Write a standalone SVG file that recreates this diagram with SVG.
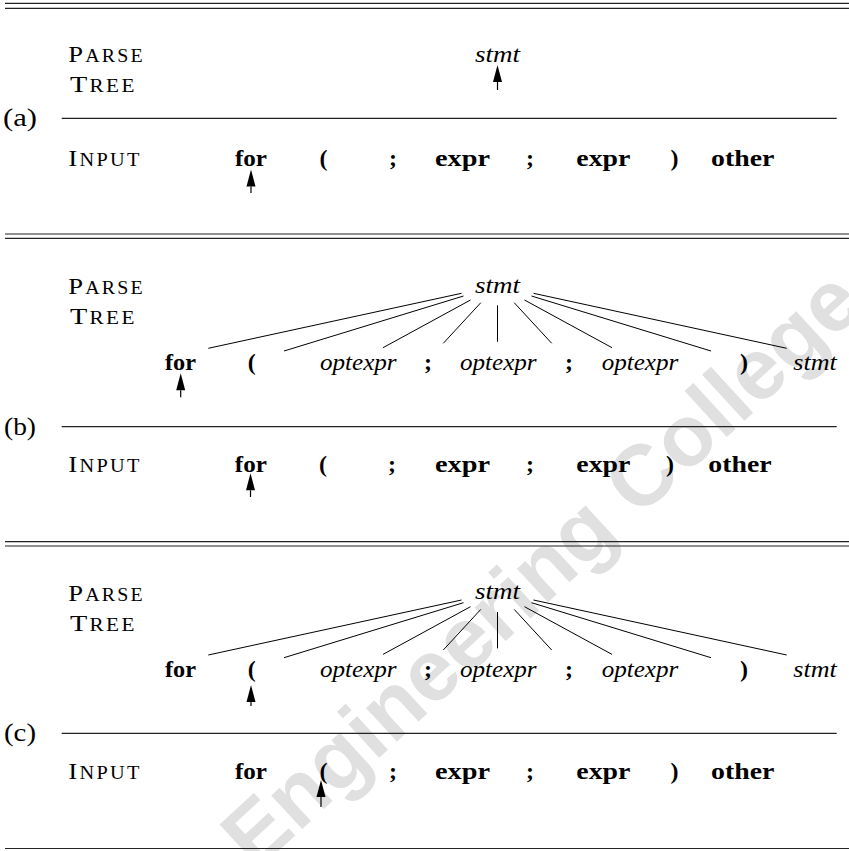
<svg xmlns="http://www.w3.org/2000/svg" width="849" height="851" viewBox="0 0 849 851">
<style>
.t{font-family:"Liberation Serif","Times New Roman",serif;font-size:24px;fill:#000}
.b{font-weight:bold}
.i{font-style:italic}
.m{text-anchor:middle}
.cap{letter-spacing:2px}
.sm{font-size:18px}
.lab{font-size:26px}
.rule{stroke:#222;stroke-width:1.2;fill:none}
.edge{stroke:#000;stroke-width:1;fill:none}
.arr{stroke:#000;stroke-width:1.2;fill:none;marker-end:url(#ah)}
.wm{font-family:"Liberation Sans",Arial,sans-serif;font-weight:bold;font-size:86px;fill:#e0e0e0;text-anchor:middle}
</style>
<defs>
<marker id="ah" markerUnits="userSpaceOnUse" markerWidth="17" markerHeight="9" refX="0" refY="4.5" orient="auto" viewBox="0 0 17 9" overflow="visible">
<path d="M0,0 L17,4.5 L0,9 Z" fill="#000"/>
</marker>
</defs>
<rect width="849" height="851" fill="#fff"/>
<text class="wm" x="561" y="590" transform="rotate(-42.7 561 590)">Engineering College</text>

<g id="rules">
<line class="rule" x1="5" y1="3.3" x2="849" y2="3.3"/>
<line class="rule" x1="5" y1="8.3" x2="849" y2="8.3"/>
<line class="rule" x1="61.7" y1="118.3" x2="836.7" y2="118.3"/>
<line class="rule" x1="5" y1="234" x2="849" y2="234"/>
<line class="rule" x1="5" y1="238.3" x2="849" y2="238.3"/>
<line class="rule" x1="61.7" y1="426.7" x2="836.7" y2="426.7"/>
<line class="rule" x1="5" y1="541.7" x2="849" y2="541.7"/>
<line class="rule" x1="5" y1="546" x2="849" y2="546"/>
<line class="rule" x1="61.7" y1="733.3" x2="836.7" y2="733.3"/>
<line class="rule" x1="5" y1="848.5" x2="849" y2="848.5"/>
</g>

<g id="labels">
<text class="t lab" x="3" y="126" textLength="34" lengthAdjust="spacingAndGlyphs">(a)</text>
<text class="t lab" x="4" y="434.5" textLength="32" lengthAdjust="spacingAndGlyphs">(b)</text>
<text class="t lab" x="4" y="740.5" textLength="32" lengthAdjust="spacingAndGlyphs">(c)</text>
<text class="t cap" x="68.3" y="62.3" textLength="76.7" lengthAdjust="spacingAndGlyphs">P<tspan class="sm">ARSE</tspan></text>
<text class="t cap" x="70" y="92.3" textLength="66.7" lengthAdjust="spacingAndGlyphs">T<tspan class="sm">REE</tspan></text>
<text class="t cap" x="68.3" y="166" textLength="73.3" lengthAdjust="spacingAndGlyphs">I<tspan class="sm">NPUT</tspan></text>
<text class="t cap" x="68.3" y="294" textLength="76.7" lengthAdjust="spacingAndGlyphs">P<tspan class="sm">ARSE</tspan></text>
<text class="t cap" x="70" y="324" textLength="66.7" lengthAdjust="spacingAndGlyphs">T<tspan class="sm">REE</tspan></text>
<text class="t cap" x="68.3" y="472" textLength="73.3" lengthAdjust="spacingAndGlyphs">I<tspan class="sm">NPUT</tspan></text>
<text class="t cap" x="68.3" y="600.7" textLength="76.7" lengthAdjust="spacingAndGlyphs">P<tspan class="sm">ARSE</tspan></text>
<text class="t cap" x="70" y="630.7" textLength="66.7" lengthAdjust="spacingAndGlyphs">T<tspan class="sm">REE</tspan></text>
<text class="t cap" x="68.3" y="779" textLength="73.3" lengthAdjust="spacingAndGlyphs">I<tspan class="sm">NPUT</tspan></text>
</g>

<!-- section (a) -->
<g id="a-tree">
<g id="a-stmt"><text class="t i m" x="497.5" y="61.7" textLength="45" lengthAdjust="spacingAndGlyphs">stmt</text></g>
</g>
<g id="a-input">
<g id="a-in-for"><text class="t b m" x="251" y="166" textLength="32" lengthAdjust="spacingAndGlyphs">for</text></g>
<g id="a-in-lp"><text class="t b m" x="323.5" y="166">(</text></g>
<g id="a-in-semi1"><text class="t b m" x="393" y="166">;</text></g>
<g id="a-in-expr1"><text class="t b m" x="462.5" y="166" textLength="55" lengthAdjust="spacingAndGlyphs">expr</text></g>
<g id="a-in-semi2"><text class="t b m" x="530" y="166">;</text></g>
<g id="a-in-expr2"><text class="t b m" x="603.3" y="166" textLength="54" lengthAdjust="spacingAndGlyphs">expr</text></g>
<g id="a-in-rp"><text class="t b m" x="674.5" y="166">)</text></g>
<g id="a-in-other"><text class="t b m" x="742.7" y="166" textLength="63.3" lengthAdjust="spacingAndGlyphs">other</text></g>
</g>

<!-- section (b) -->
<g id="b-tree">
<g id="b-stmt"><text class="t i m" x="497.5" y="292.5" textLength="45" lengthAdjust="spacingAndGlyphs">stmt</text></g>
<g id="b-for"><text class="t b m" x="180.5" y="370" textLength="31" lengthAdjust="spacingAndGlyphs">for</text></g>
<g id="b-lp"><text class="t b m" x="251.7" y="370">(</text></g>
<g id="b-opt1"><text class="t i m" x="358.3" y="370" textLength="76.7" lengthAdjust="spacingAndGlyphs">optexpr</text></g>
<g id="b-semi1"><text class="t b m" x="428" y="370">;</text></g>
<g id="b-opt2"><text class="t i m" x="498.3" y="370" textLength="76.7" lengthAdjust="spacingAndGlyphs">optexpr</text></g>
<g id="b-semi2"><text class="t b m" x="569" y="370">;</text></g>
<g id="b-opt3"><text class="t i m" x="640" y="370" textLength="76.7" lengthAdjust="spacingAndGlyphs">optexpr</text></g>
<g id="b-rp"><text class="t b m" x="744" y="370">)</text></g>
<g id="b-stmt2"><text class="t i m" x="815" y="370" textLength="43.4" lengthAdjust="spacingAndGlyphs">stmt</text></g>
</g>
<g id="b-input">
<g id="b-in-for"><text class="t b m" x="250.8" y="472" textLength="32" lengthAdjust="spacingAndGlyphs">for</text></g>
<g id="b-in-lp"><text class="t b m" x="323" y="472">(</text></g>
<g id="b-in-semi1"><text class="t b m" x="392" y="472">;</text></g>
<g id="b-in-expr1"><text class="t b m" x="462.5" y="472" textLength="55" lengthAdjust="spacingAndGlyphs">expr</text></g>
<g id="b-in-semi2"><text class="t b m" x="530" y="472">;</text></g>
<g id="b-in-expr2"><text class="t b m" x="603.3" y="472" textLength="54" lengthAdjust="spacingAndGlyphs">expr</text></g>
<g id="b-in-rp"><text class="t b m" x="670" y="472">)</text></g>
<g id="b-in-other"><text class="t b m" x="740" y="472" textLength="63.3" lengthAdjust="spacingAndGlyphs">other</text></g>
</g>

<!-- section (c) -->
<g id="c-tree">
<g id="c-stmt"><text class="t i m" x="497.5" y="599.2" textLength="45" lengthAdjust="spacingAndGlyphs">stmt</text></g>
<g id="c-for"><text class="t b m" x="180.5" y="677" textLength="31" lengthAdjust="spacingAndGlyphs">for</text></g>
<g id="c-lp"><text class="t b m" x="251.7" y="677">(</text></g>
<g id="c-opt1"><text class="t i m" x="358.3" y="677" textLength="76.7" lengthAdjust="spacingAndGlyphs">optexpr</text></g>
<g id="c-semi1"><text class="t b m" x="428" y="677">;</text></g>
<g id="c-opt2"><text class="t i m" x="498.3" y="677" textLength="76.7" lengthAdjust="spacingAndGlyphs">optexpr</text></g>
<g id="c-semi2"><text class="t b m" x="569" y="677">;</text></g>
<g id="c-opt3"><text class="t i m" x="640" y="677" textLength="76.7" lengthAdjust="spacingAndGlyphs">optexpr</text></g>
<g id="c-rp"><text class="t b m" x="744" y="677">)</text></g>
<g id="c-stmt2"><text class="t i m" x="815" y="677" textLength="43.4" lengthAdjust="spacingAndGlyphs">stmt</text></g>
</g>
<g id="c-input">
<g id="c-in-for"><text class="t b m" x="251" y="779" textLength="32" lengthAdjust="spacingAndGlyphs">for</text></g>
<g id="c-in-lp"><text class="t b m" x="323.5" y="779">(</text></g>
<g id="c-in-semi1"><text class="t b m" x="393" y="779">;</text></g>
<g id="c-in-expr1"><text class="t b m" x="462.5" y="779" textLength="55" lengthAdjust="spacingAndGlyphs">expr</text></g>
<g id="c-in-semi2"><text class="t b m" x="530" y="779">;</text></g>
<g id="c-in-expr2"><text class="t b m" x="603.3" y="779" textLength="54" lengthAdjust="spacingAndGlyphs">expr</text></g>
<g id="c-in-rp"><text class="t b m" x="674.5" y="779">)</text></g>
<g id="c-in-other"><text class="t b m" x="742.7" y="779" textLength="63.3" lengthAdjust="spacingAndGlyphs">other</text></g>
</g>

<g id="connectors">
<path class="edge" d="M461.5,293.3 L208.3,348.3 M463.5,296 L284,351 M470.5,300 L383,347.7 M480.8,302.7 L443.3,343.3 M497.5,305.3 L497.5,341.7 M514.2,302.7 L551.7,343.3 M524.5,300 L612,347.7 M531.5,296 L711,351 M533.5,293.3 L786.7,348.3"/>
<path class="edge" d="M461.5,600 L208.3,655 M463.5,602.7 L284,657.7 M470.5,606.7 L383,654.4 M480.8,609.4 L443.3,650 M497.5,612 L497.5,648.4 M514.2,609.4 L551.7,650 M524.5,606.7 L612,654.4 M531.5,602.7 L711,657.7 M533.5,600 L786.7,655"/>
<path class="arr" d="M497.5,90 L497.5,82"/>
<path class="arr" d="M251,193 L251,186.5"/>
<path class="arr" d="M180.7,397.3 L180.7,390.3"/>
<path class="arr" d="M250.5,497 L250.5,490.3"/>
<path class="arr" d="M251,706 L251,702"/>
<path class="arr" d="M321,807 L321,797"/>
</g>
</svg>
